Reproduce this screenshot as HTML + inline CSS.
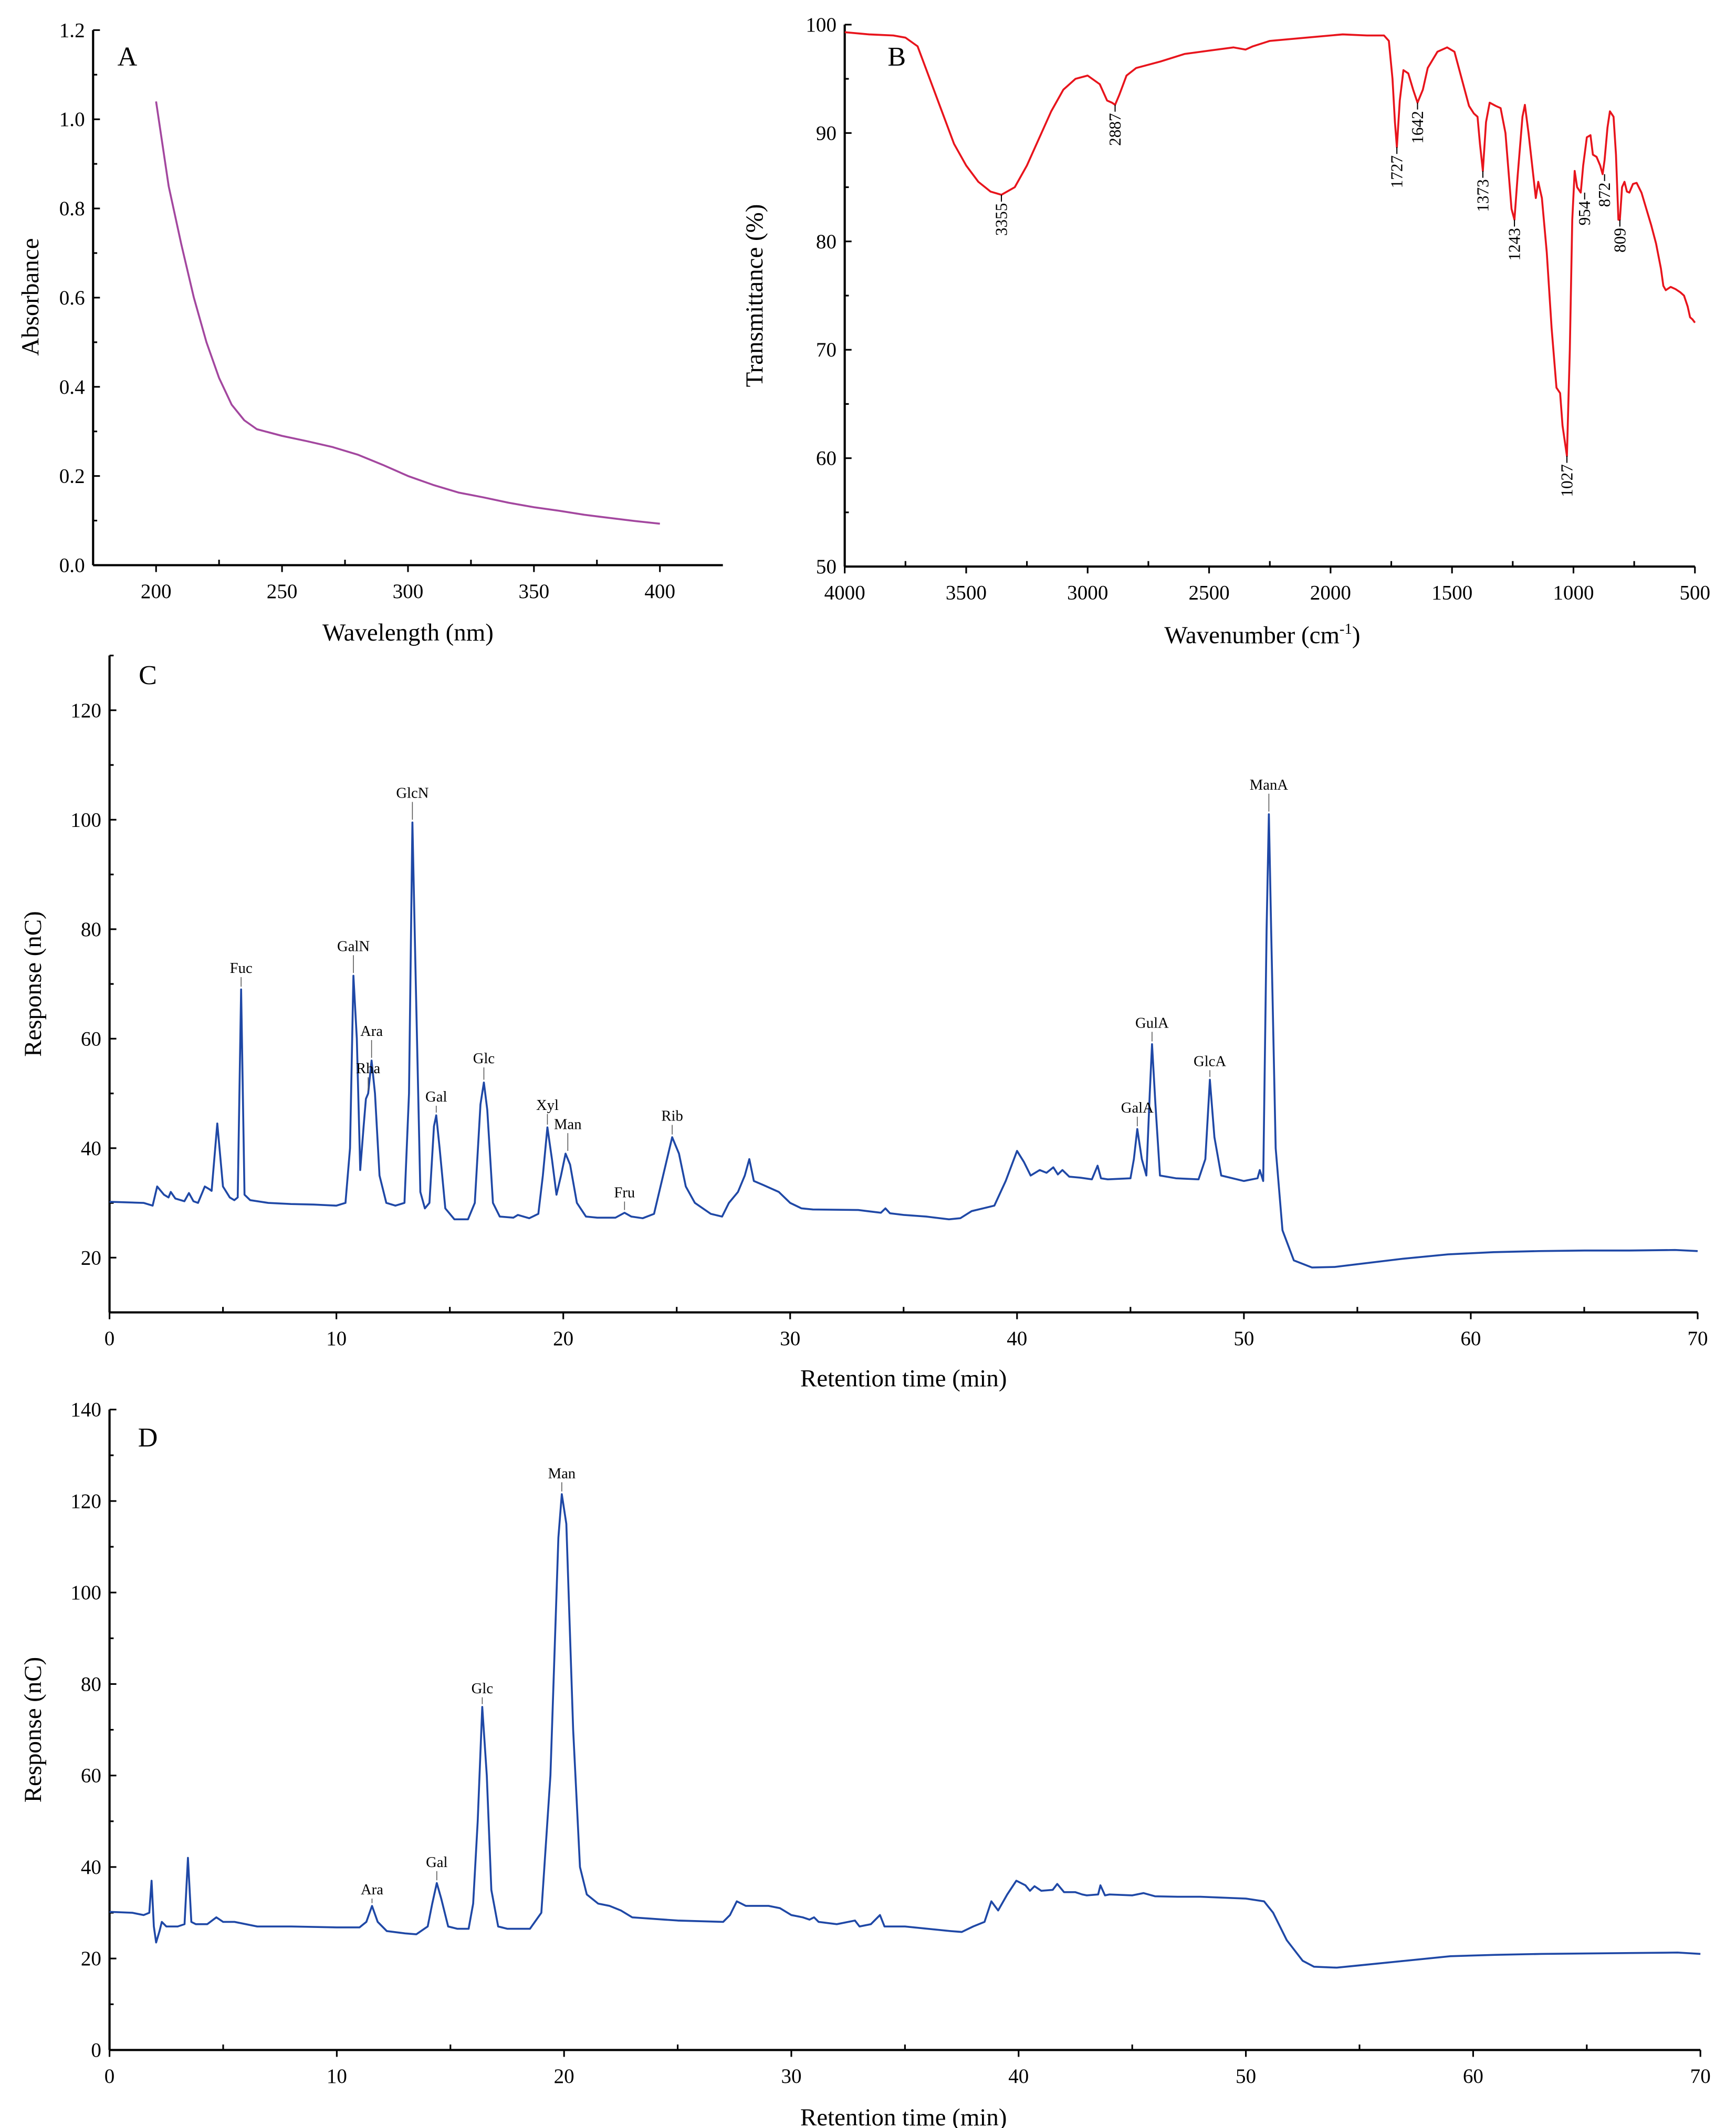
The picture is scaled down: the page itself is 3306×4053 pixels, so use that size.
<!DOCTYPE html>
<html><head><meta charset="utf-8"><style>
html,body{margin:0;padding:0;background:#fff}
svg{display:block}
text{font-family:"Liberation Serif",serif;fill:#000}
</style></head><body>
<svg id="fig" xmlns="http://www.w3.org/2000/svg" width="3306" height="4053" viewBox="0 0 1268 1555" preserveAspectRatio="none"></svg>
<script>
// ---- Panel A data (UV) ----
const uvWavelength=[200,205,210,215,220,225,230,235,240,250,260,270,280,290,300,310,320,330,340,350,360,370,380,390,400];
const uvAbsorbance=[1.04,0.85,0.72,0.6,0.5,0.42,0.36,0.325,0.305,0.29,0.278,0.265,0.248,0.225,0.2,0.18,0.163,0.152,0.14,0.13,0.122,0.113,0.106,0.099,0.093];
const uvXTicks=[200,250,300,350,400];
const uvYTicks=[0.0,0.2,0.4,0.6,0.8,1.0,1.2];
// ---- Panel B data (FT-IR) ----
const irWavenumber=[4000,3900,3800,3750,3700,3650,3600,3550,3500,3450,3400,3355,3300,3250,3200,3150,3100,3050,3000,2950,2920,2900,2887,2870,2840,2800,2700,2600,2500,2400,2350,2320,2250,2100,1950,1850,1780,1760,1745,1735,1727,1715,1700,1680,1660,1642,1620,1600,1560,1520,1490,1460,1430,1410,1395,1385,1373,1360,1345,1320,1300,1280,1255,1243,1230,1210,1200,1185,1165,1155,1145,1130,1110,1090,1070,1055,1045,1027,1015,1005,995,985,970,960,945,930,920,905,890,880,872,860,850,835,825,815,809,800,790,780,770,755,740,720,700,680,660,640,630,620,600,580,560,545,530,520,510,500];
const irTransmittance=[99.3,99.1,99,98.8,98,95,92,89,87,85.5,84.6,84.3,85,87,89.5,92,94,95,95.3,94.5,93,92.8,92.6,93.5,95.3,96,96.6,97.3,97.6,97.9,97.7,98,98.5,98.8,99.1,99,99,98.5,95,91,88.7,93,95.8,95.5,94,92.8,94,96,97.5,97.9,97.5,95,92.5,91.8,91.5,89,86.5,91,92.8,92.5,92.3,90,83,82,86,91.5,92.6,90,86,84,85.5,84,79,72,66.5,66,63,60.2,70,82,86.5,85,84.5,87,89.6,89.8,88,87.8,87,86.2,87.5,90.5,92,91.5,88,82,82,85,85.5,84.6,84.5,85.3,85.4,84.5,83,81.5,79.8,77.5,75.9,75.5,75.8,75.6,75.3,75,74,73,72.8,72.5];
const irPeakLabels=["3355","2887","1727","1642","1373","1243","1027","954","872","809"];
const irPeakX=[3355,2887,1727,1642,1373,1243,1027,954,872,809];
const irPeakY=[84.3,92.6,88.7,92.8,86.5,82,60.2,84.5,86.2,82];
const irXTicks=[4000,3500,3000,2500,2000,1500,1000,500];
const irYTicks=[50,60,70,80,90,100];
// ---- Panel C data ----
const cTime=[0,1.5,1.9,2.1,2.4,2.6,2.7,2.9,3.3,3.5,3.7,3.9,4.2,4.4,4.5,4.75,5.0,5.3,5.5,5.65,5.8,5.95,6.2,7,8,9,10,10.4,10.6,10.75,10.9,11.05,11.2,11.3,11.4,11.55,11.7,11.9,12.2,12.6,13.0,13.2,13.35,13.5,13.7,13.9,14.1,14.3,14.4,14.55,14.8,15.2,15.8,16.1,16.35,16.5,16.65,16.9,17.2,17.8,18,18.5,18.9,19.1,19.3,19.5,19.7,19.9,20.1,20.3,20.6,21,21.5,22.3,22.7,23,23.5,24,24.4,24.8,25.1,25.4,25.8,26.5,27,27.3,27.7,28,28.2,28.4,28.8,29.5,30,30.5,31,33,34,34.2,34.4,35,36,37,37.5,38,38.5,39,39.5,40,40.3,40.6,41,41.3,41.6,41.8,42,42.3,42.8,43.3,43.55,43.7,44,45,45.15,45.3,45.5,45.7,45.85,45.95,46.1,46.3,47,48,48.3,48.5,48.7,49,50,50.6,50.7,50.85,51.0,51.1,51.2,51.4,51.7,52.2,53,54,55,57,59,61,63,65,67,69,70];
const cResponse=[30.2,30,29.5,33,31.5,31,32,30.8,30.3,31.8,30.3,30,33,32.5,32.2,44.5,33,31,30.5,31,69,31.5,30.5,30,29.8,29.7,29.5,30,40,71.5,60,36,44,49,50,56,50,35,30,29.5,30,50,99.5,70,32,29,30,44,46,40,29,27,27,30,48,52,47,30,27.5,27.3,27.8,27.2,28,35,43.8,38,31.5,35,39,37,30,27.5,27.3,27.3,28.2,27.5,27.2,28,35,42,39,33,30,28,27.5,30,32,35,38,34,33.3,32,30,29,28.8,28.7,28.2,29,28.1,27.8,27.5,27,27.2,28.5,29,29.5,34,39.5,37.5,35,36,35.5,36.5,35.2,36,34.8,34.6,34.3,36.8,34.5,34.3,34.5,38,43.5,38,35,50,59,48,35,34.5,34.3,38,52.5,42,35,34,34.5,36,34,80,101,80,40,25,19.5,18.2,18.3,18.8,19.8,20.6,21,21.2,21.3,21.3,21.4,21.2];
const cPeakNames=["Fuc","GalN","GlcN","Ara","Rha","Gal","Glc","Xyl","Man","Fru","Rib","GalA","GulA","GlcA","ManA"];
const cPeakTime=[5.8,10.75,13.35,11.55,11.4,14.4,16.5,19.3,20.2,22.7,24.8,45.3,45.95,48.5,51.1];
const cPeakTop=[69,71.5,99.5,56,50,46,52,43.8,39,28.2,42,43.5,59,52.5,101];
const cLabelY=[72,76,104,60.5,53.7,48.5,55.5,47,43.5,31,45,46.5,62,55,105.5];
const cXTicks=[0,10,20,30,40,50,60,70];
const cYTicks=[20,40,60,80,100,120];
// ---- Panel D data ----
const dTime=[0,1,1.5,1.75,1.85,1.95,2.05,2.2,2.3,2.5,3.0,3.3,3.45,3.6,3.8,4.3,4.7,5,5.5,6,6.5,8,10,11,11.3,11.55,11.8,12.2,13,13.5,14,14.2,14.4,14.6,14.9,15.3,15.8,16.0,16.2,16.4,16.6,16.8,17.1,17.5,18.5,19.0,19.4,19.75,19.9,20.1,20.4,20.7,21.0,21.5,22,22.5,23,25,27,27.3,27.6,28,29,29.5,30,30.5,30.8,31,31.2,32,32.8,33,33.5,33.9,34.1,35,36,37,37.5,38,38.5,38.8,39.1,39.5,39.9,40.3,40.5,40.7,41,41.5,41.7,42,42.5,42.8,43,43.5,43.6,43.8,44,45,45.5,46,47,48,49,50,50.8,51.2,51.8,52.5,53,54,55,57,59,61,63,65,67,69,70];
const dResponse=[30.2,30,29.5,30,37,27,23.5,26,28,27,27,27.5,42,28,27.5,27.5,29,28,28,27.5,27,27,26.8,26.8,28,31.5,28,26,25.5,25.3,27,32,36.5,33,27,26.5,26.5,32,50,75,60,35,27,26.5,26.5,30,60,112,121.5,115,70,40,34,32,31.5,30.5,29,28.3,28,29.5,32.5,31.5,31.5,31,29.5,29,28.5,29,28,27.5,28.3,27,27.5,29.5,27,27,26.5,26,25.8,27,28,32.5,30.5,34,37,36,34.8,35.8,34.8,35,36.3,34.5,34.5,34,33.8,34,36,33.8,34,33.8,34.3,33.6,33.5,33.5,33.3,33.1,32.5,30,24,19.5,18.2,18,18.5,19.5,20.5,20.8,21,21.1,21.2,21.3,21];
const dPeakNames=["Ara","Gal","Glc","Man"];
const dPeakTime=[11.55,14.4,16.4,19.9];
const dPeakTop=[31.5,36.5,75,121.5];
const dLabelY=[34,40,78,125];
const dXTicks=[0,10,20,30,40,50,60,70];
const dYTicks=[0,20,40,60,80,100,120,140];

const NS="http://www.w3.org/2000/svg";
const svg=document.getElementById('fig');
function el(tag,attrs,parent){const e=document.createElementNS(NS,tag);for(const k in attrs)e.setAttribute(k,attrs[k]);(parent||svg).appendChild(e);return e;}
function scale(d0,d1,r0,r1){return v=>r0+(v-d0)/(d1-d0)*(r1-r0);}
function txt(parent,x,y,s,size,anchor,rot){const t=el('text',{x:x,y:y,'font-size':size,'text-anchor':anchor||'middle'},parent);if(rot)t.setAttribute('transform','rotate(-90 '+x+' '+y+')');t.textContent=s;return t;}

function axes(g,P,fmt){
  const X=scale(P.xmin,P.xmax,P.x0,P.x1),Y=scale(P.ymin,P.ymax,P.y0,P.y1);
  const xa=el('line',{x1:P.x0,y1:P.y0,x2:P.x1,y2:P.y0,stroke:'#000','stroke-width':1.6},g);
  
  const ya=el('line',{x1:P.x0,y1:P.y0,x2:P.x0,y2:P.y1,stroke:'#000','stroke-width':1.6},g);
  
  P.xt.forEach((v,i)=>{const x=X(v);el('line',{x1:x,y1:P.y0,x2:x,y2:P.y0+5,stroke:'#000','stroke-width':1.2},g);
    const t=txt(g,x,P.y0+24,fmt.x(v),15);
    if(i<P.xt.length-1){const m=X((v+P.xt[i+1])/2);el('line',{x1:m,y1:P.y0,x2:m,y2:P.y0-4,stroke:'#000','stroke-width':1.2},g);}});
  P.yt.forEach((v,i)=>{const y=Y(v);el('line',{x1:P.x0,y1:y,x2:P.x0+5,y2:y,stroke:'#000','stroke-width':1.2},g);
    const t=txt(g,P.x0-6,y+5,fmt.y(v),15,'end');
    if(i<P.yt.length-1){const m=Y((v+P.yt[i+1])/2);el('line',{x1:P.x0,y1:m,x2:P.x0+3,y2:m,stroke:'#000','stroke-width':1.2},g);}});
  return [X,Y];
}
function curve(g,X,Y,xs,ys,color,name){
  let d='';xs.forEach((v,i)=>{d+=(i?'L':'M')+X(v).toFixed(2)+' '+Y(ys[i]).toFixed(2);});
  const p=el('path',{d:d,fill:'none',stroke:color,'stroke-width':1.4,'stroke-linejoin':'round'},g);
  
}

// Panel A
let gA=el('g',{});
let [XA,YA]=axes(gA,{x0:68,x1:528,y0:413,y1:22,xmin:175,xmax:425,ymin:0,ymax:1.2,xt:uvXTicks,yt:uvYTicks},{x:v=>String(v),y:v=>v.toFixed(1)});
curve(gA,XA,YA,uvWavelength,uvAbsorbance,'#a3479f','uv-absorbance-line');
let t=txt(gA,28,217,'Absorbance',18,'middle',true);
t=txt(gA,298,468,'Wavelength (nm)',18);
t=txt(gA,93,48,'A',20);

// Panel B
let gB=el('g',{});
let [XB,YB]=axes(gB,{x0:617,x1:1238,y0:414,y1:18,xmin:4000,xmax:500,ymin:50,ymax:100,xt:irXTicks,yt:irYTicks},{x:v=>String(v),y:v=>String(v)});
curve(gB,XB,YB,irWavenumber,irTransmittance,'#e8141c','ftir-transmittance-line');
irPeakLabels.forEach((s,i)=>{const x=XB(irPeakX[i]);const y0=YB(irPeakY[i]);const yl=y0+5;
  el('line',{x1:x,y1:y0,x2:x,y2:yl,stroke:'#000','stroke-width':0.8},gB);
  const tt=el('text',{x:0,y:0,'font-size':12,'text-anchor':'end',transform:'translate('+(x+4)+' '+(yl+1)+') rotate(-90)'},gB);
  tt.textContent=s;});
t=txt(gB,557,216,'Transmittance (%)',18,'middle',true);
t=txt(gB,922,470,'Wavenumber (cm',18);
const sup=el('tspan',{'font-size':11,dy:-7},t);sup.textContent='-1';const cl=el('tspan',{dy:7},t);cl.textContent=')';
t=txt(gB,655,48,'B',20);

// Panel C
let gC=el('g',{});
let [XC,YC]=axes(gC,{x0:80,x1:1240,y0:959,y1:479,xmin:0,xmax:70,ymin:10,ymax:130,xt:cXTicks,yt:cYTicks},{x:v=>String(v),y:v=>String(v)});
[30,50,70,90,110,130].forEach(v=>el('line',{x1:80,y1:YC(v),x2:83,y2:YC(v),stroke:'#000','stroke-width':1.2},gC));
curve(gC,XC,YC,cTime,cResponse,'#1f48a6','chromatogram-c-line');
cPeakNames.forEach((s,i)=>{const x=XC(cPeakTime[i]);const yl=YC(cLabelY[i]);
  el('line',{x1:x,y1:YC(cPeakTop[i])-2,x2:x,y2:yl+3,stroke:'#555','stroke-width':0.6},gC);
  const tt=txt(gC,x,yl,s,11);});
t=txt(gC,30,719,'Response (nC)',18,'middle',true);
t=txt(gC,660,1013,'Retention time (min)',18);
t=txt(gC,108,500,'C',20);

// Panel D
let gD=el('g',{});
let [XD,YD]=axes(gD,{x0:80,x1:1242,y0:1498,y1:1030,xmin:0,xmax:70,ymin:0,ymax:140,xt:dXTicks,yt:dYTicks},{x:v=>String(v),y:v=>String(v)});
curve(gD,XD,YD,dTime,dResponse,'#1f48a6','chromatogram-d-line');
dPeakNames.forEach((s,i)=>{const x=XD(dPeakTime[i]);const yl=YD(dLabelY[i]);
  el('line',{x1:x,y1:YD(dPeakTop[i])-2,x2:x,y2:yl+3,stroke:'#555','stroke-width':0.6},gD);
  const tt=txt(gD,x,yl,s,11);});
t=txt(gD,30,1264,'Response (nC)',18,'middle',true);
t=txt(gD,660,1553,'Retention time (min)',18);
t=txt(gD,108,1057,'D',20);
</script>
</body></html>
